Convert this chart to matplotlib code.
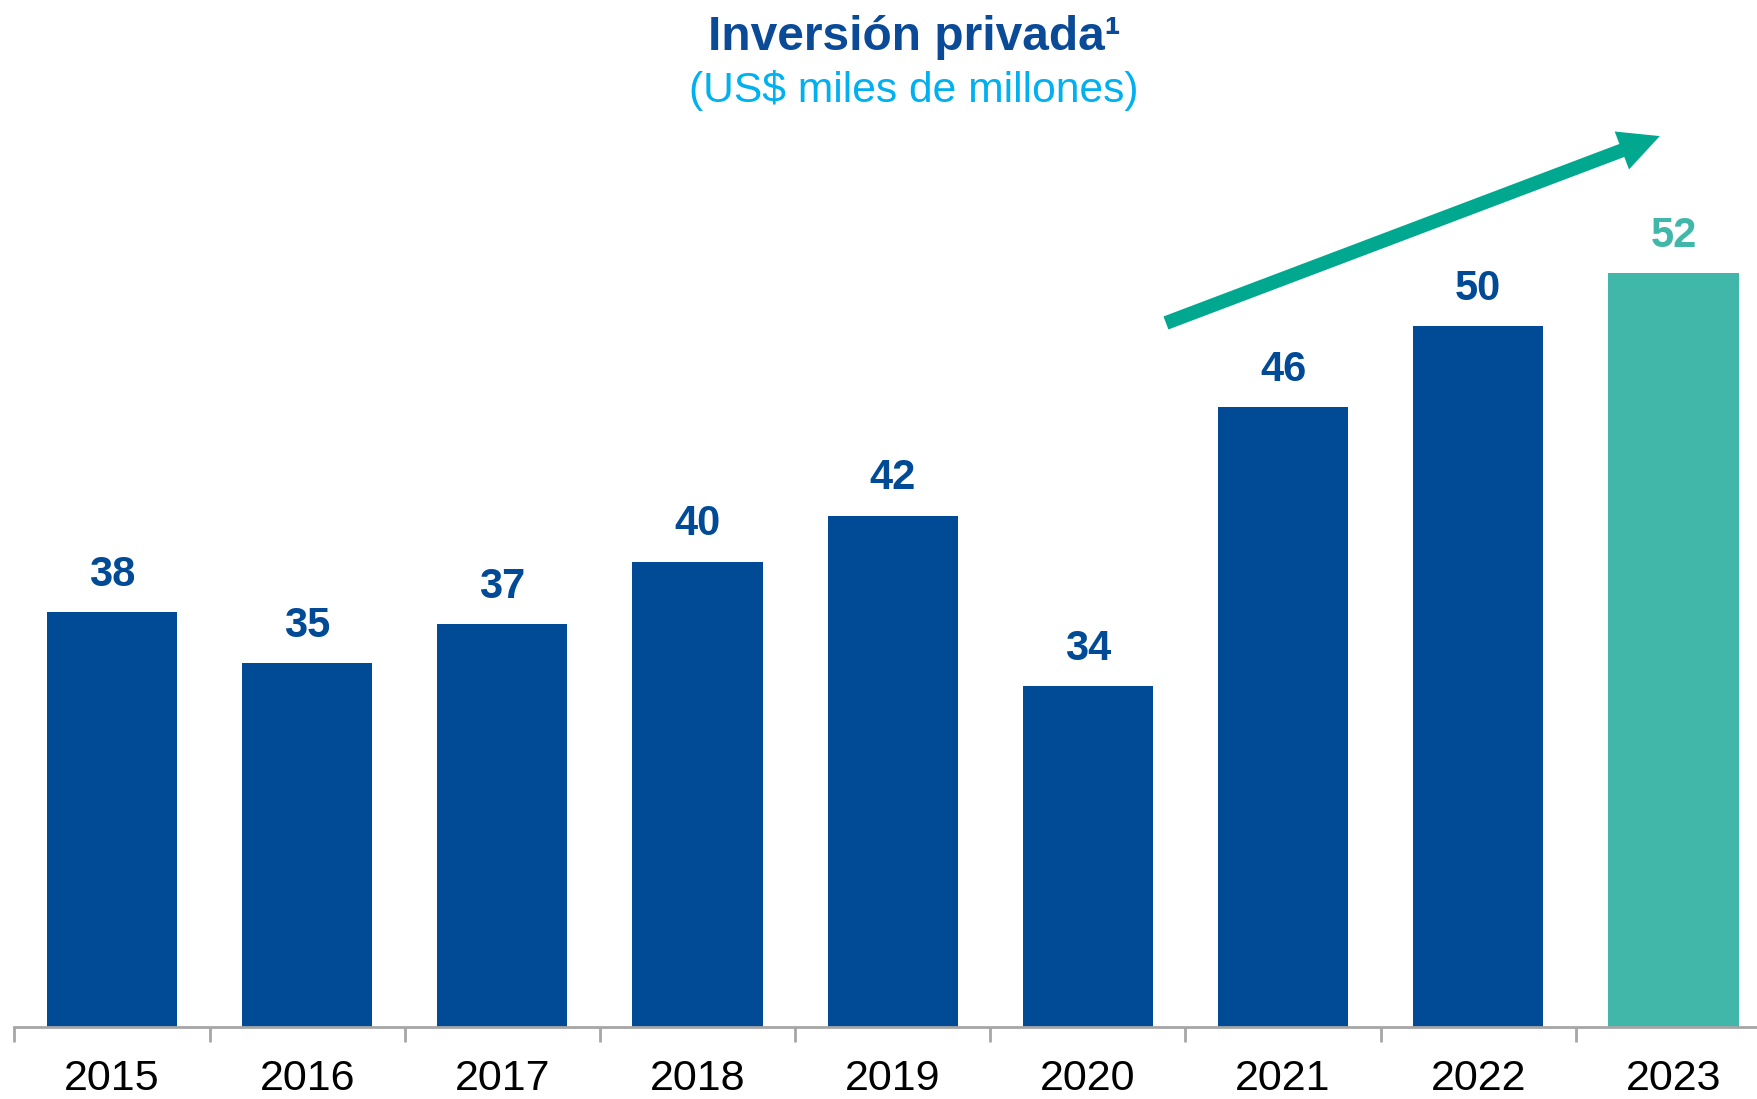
import matplotlib.pyplot as plt

years = ['2015', '2016', '2017', '2018', '2019', '2020', '2021', '2022', '2023']
# bar heights (labels are the rounded values shown)
values = [37.5, 35.3, 37.0, 39.7, 41.7, 34.3, 46.4, 49.9, 52.2]
labels = ['38', '35', '37', '40', '42', '34', '46', '50', '52']

blue = '#004A96'
teal = '#41B7A9'
arrow_col = '#00A88F'

plt.rcParams['font.family'] = ['Liberation Sans', 'DejaVu Sans']

fig = plt.figure(figsize=(17.58, 10.99), dpi=100)
ax = fig.add_axes([0.0082, 0.0655, 0.9992, 0.9345])

colors = [blue] * (len(years) - 1) + [teal]
x = range(len(years))
bars = ax.bar(x, values, width=0.667, color=colors, zorder=2)

for i, b in enumerate(bars):
    ax.annotate(labels[i], (b.get_x() + b.get_width() / 2, b.get_height()),
                xytext=(0, 12.5), textcoords='offset points',
                ha='center', va='bottom', fontsize=30, fontweight='bold',
                color=colors[i])

ax.set_xlim(-0.5, len(years) - 0.5)
ax.set_ylim(19.53, 64.05)

for s in ['top', 'right', 'left']:
    ax.spines[s].set_visible(False)
ax.spines['bottom'].set_color('#A6A6A6')
ax.spines['bottom'].set_linewidth(2)
ax.set_yticks([])

# ticks between categories, labels at centres
ax.set_xticks([i - 0.5 for i in range(len(years) + 1)])
ax.set_xticklabels([])
ax.tick_params(axis='x', which='major', length=11, width=2, color='#A6A6A6')
ax.set_xticks(list(x), minor=True)
ax.set_xticklabels(years, minor=True, fontsize=31)
ax.tick_params(axis='x', which='minor', length=0, pad=23)

# trend arrow
ax.annotate('', xy=(7.93, 58.15), xytext=(5.40, 50.05),
            arrowprops=dict(arrowstyle='-|>,head_length=1.3,head_width=0.65',
                            color=arrow_col, lw=10, shrinkA=0, shrinkB=0,
                            capstyle='butt', joinstyle='miter'))

fig.text(0.52, 0.966, 'Inversión privada¹', ha='center', va='center',
         fontsize=34.5, fontweight='bold', color='#0B4A96')
fig.text(0.52, 0.918, '(US$ miles de millones)', ha='center', va='center',
         fontsize=30.7, color='#00B0F0')

fig.savefig('out.png', dpi=100)
